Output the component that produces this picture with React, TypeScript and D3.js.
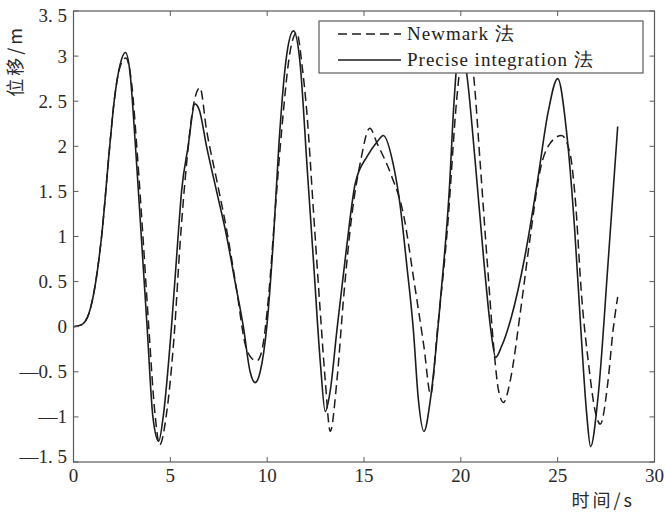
import * as d3 from "d3";

// time (s) / displacement (m)
const preciseT = [0, 0.4, 0.8, 1.15, 1.45, 1.87, 2.1, 2.4, 2.68, 2.9, 3.2, 3.5, 3.8, 4.1, 4.4, 4.63, 5.06, 5.4, 5.58, 5.92, 6.27, 6.5, 6.87, 7.39, 7.91, 8.34, 8.77, 9.12, 9.38, 9.64, 9.98, 10.33, 10.6, 11.0, 11.36, 11.7, 12.05, 12.4, 12.75, 13.0, 13.25, 13.6, 14.1, 14.55, 15.17, 15.68, 16.0, 16.5, 16.85, 17.2, 17.55, 17.8, 18.1, 18.44, 18.96, 19.4, 19.65, 19.95, 20.3, 20.75, 21.2, 21.55, 21.8, 22.1, 22.6, 23.3, 23.97, 24.5, 25.0, 25.45, 25.88, 26.2, 26.5, 26.7, 27.08, 27.6, 28.1];
const preciseU = [0, 0.02, 0.15, 0.5, 1.0, 2.0, 2.5, 2.9, 3.04, 2.85, 2.0, 1.0, 0.0, -1.0, -1.27, -1.0, 0.0, 1.0, 1.5, 2.0, 2.47, 2.4, 2.0, 1.5, 1.0, 0.5, 0.0, -0.5, -0.62, -0.5, 0.0, 1.0, 2.0, 3.0, 3.28, 2.92, 1.81, 0.7, -0.41, -0.94, -0.72, -0.04, 0.88, 1.59, 1.89, 2.05, 2.12, 1.81, 1.37, 0.7, -0.04, -0.79, -1.16, -0.79, 0.33, 1.5, 2.5, 3.15, 2.81, 1.81, 0.7, -0.04, -0.34, -0.22, 0.1, 0.77, 1.63, 2.37, 2.75, 2.18, 1.07, -0.04, -0.97, -1.33, -0.79, 0.7, 2.22];

const newmarkT = [0, 0.4, 0.8, 1.15, 1.45, 1.87, 2.1, 2.4, 2.7, 3.0, 3.3, 3.6, 3.9, 4.2, 4.45, 4.8, 5.23, 5.49, 5.84, 6.18, 6.53, 6.87, 7.39, 7.91, 8.43, 8.86, 9.2, 9.46, 9.72, 10.07, 10.4, 10.75, 11.2, 11.53, 11.8, 12.05, 12.4, 12.75, 13.0, 13.26, 13.6, 13.95, 14.38, 14.8, 15.3, 15.68, 16.37, 17.06, 17.58, 18.1, 18.44, 18.79, 19.3, 19.8, 20.25, 20.65, 21.0, 21.37, 21.7, 21.95, 22.2, 22.55, 23.06, 23.58, 24.1, 24.6, 25.2, 25.64, 25.9, 26.24, 26.6, 26.94, 27.2, 27.6, 27.86, 28.1];
const newmarkU = [0, 0.02, 0.15, 0.5, 1.0, 2.0, 2.5, 2.88, 2.98, 2.7, 1.9, 0.95, -0.05, -0.95, -1.31, -0.97, 0.0, 0.88, 1.81, 2.44, 2.65, 2.18, 1.63, 1.07, 0.4, -0.19, -0.35, -0.38, -0.27, 0.33, 1.25, 2.18, 3.07, 3.26, 2.9, 2.37, 1.25, 0.14, -0.6, -1.16, -0.6, 0.33, 1.25, 1.81, 2.2, 2.03, 1.7, 1.22, 0.51, -0.23, -0.75, -0.04, 1.07, 2.55, 3.25, 2.81, 1.81, 0.7, -0.23, -0.71, -0.84, -0.6, 0.14, 0.99, 1.74, 2.03, 2.12, 1.92, 1.44, 0.33, -0.42, -0.94, -1.08, -0.6, -0.04, 0.33];

const xTicks = [0, 5, 10, 15, 20, 25, 30];
const yTicks = [-1.5, -1, -0.5, 0, 0.5, 1, 1.5, 2, 2.5, 3, 3.5];

const legendLabels = ["Newmark 法", "Precise integration 法"];

const W = 665;
const H = 512;
const plot = { left: 73.5, right: 654.5, top: 11, bottom: 462 };
const serif = "'Liberation Serif', 'Times New Roman', serif";
const cjk = "'Noto Sans CJK SC', 'Liberation Serif', serif";
const axisColor = "#5a5a5a";
const ink = "#1c1c1c";

const fmtTick = (v: number) => {
  const s = d3.format("~g")(Math.abs(v)).replace(".", ". ");
  return (v < 0 ? "—" : "") + s;
};

export default function App() {
  const x = d3.scaleLinear().domain([0, 30]).range([plot.left, plot.right]);
  const y = d3.scaleLinear().domain([-1.5, 3.5]).range([plot.bottom, plot.top]);

  const line = d3
    .line<[number, number]>()
    .x((d) => x(d[0]))
    .y((d) => y(d[1]))
    .curve(d3.curveMonotoneX);

  const precise = preciseT.map((t, i) => [t, preciseU[i]] as [number, number]);
  const newmark = newmarkT.map((t, i) => [t, newmarkU[i]] as [number, number]);

  const tick = 5;
  const lg = { x: 319, y: 21, w: 324, h: 52 };

  return (
    <div style={{ position: "absolute", left: 0, top: 0 }}>
      <svg width={W} height={H} style={{ display: "block", background: "#fff" }}>
        <defs>
          <clipPath id="plotClip">
            <rect x={plot.left} y={plot.top} width={plot.right - plot.left} height={plot.bottom - plot.top} />
          </clipPath>
        </defs>

        {/* curves */}
        <g clipPath="url(#plotClip)" fill="none">
          <path d={line(newmark) || ""} stroke={ink} strokeWidth={1.5} strokeDasharray="9,5" />
          <path d={line(precise) || ""} stroke={ink} strokeWidth={1.6} />
        </g>

        {/* frame */}
        <rect
          x={plot.left}
          y={plot.top}
          width={plot.right - plot.left}
          height={plot.bottom - plot.top}
          fill="none"
          stroke={axisColor}
          strokeWidth={1.2}
        />

        {/* x ticks */}
        {xTicks.map((t) => (
          <g key={"x" + t}>
            <line x1={x(t)} x2={x(t)} y1={plot.bottom} y2={plot.bottom - tick} stroke={axisColor} />
            <line x1={x(t)} x2={x(t)} y1={plot.top} y2={plot.top + tick} stroke={axisColor} />
            <text
              x={x(t)}
              y={482}
              textAnchor="middle"
              fontFamily={serif}
              fontSize={19}
              fill="#2a2a2a"
            >
              {t}
            </text>
          </g>
        ))}

        {/* y ticks */}
        {yTicks.map((v, i) => {
          let ty = y(v) + 6.5;
          if (i === 0) ty = y(v) + 1;
          if (i === yTicks.length - 1) ty = y(v) + 11;
          return (
            <g key={"y" + v}>
              <line x1={plot.left} x2={plot.left + tick} y1={y(v)} y2={y(v)} stroke={axisColor} />
              <line x1={plot.right} x2={plot.right - tick} y1={y(v)} y2={y(v)} stroke={axisColor} />
              <text
                x={67}
                y={ty}
                textAnchor="end"
                fontFamily={serif}
                fontSize={19}
                fill="#2a2a2a"
              >
                {fmtTick(v)}
              </text>
            </g>
          );
        })}

        {/* axis titles */}
        <text x={635} y={507} textAnchor="end" fontFamily={cjk} fontSize={18} letterSpacing={3} fill="#2a2a2a">
          时间/s
        </text>
        <text
          transform="translate(22,61) rotate(-90)"
          textAnchor="middle"
          fontFamily={cjk}
          fontSize={18}
          letterSpacing={3}
          fill="#2a2a2a"
        >
          位移/m
        </text>

        {/* legend */}
        <g>
          <rect x={lg.x} y={lg.y} width={lg.w} height={lg.h} fill="#fff" stroke={axisColor} strokeWidth={1.2} />
          {legendLabels.map((lab, i) => {
            const cy = lg.y + 13 + i * 26;
            return (
              <g key={lab}>
                <line
                  x1={338}
                  x2={401}
                  y1={cy}
                  y2={cy}
                  stroke={ink}
                  strokeWidth={1.5}
                  strokeDasharray={i === 0 ? "9,5" : undefined}
                />
                <text x={407} y={cy + 6} fontFamily={serif} fontSize={19} letterSpacing={1} fill="#222">
                  {lab}
                </text>
              </g>
            );
          })}
        </g>
      </svg>
    </div>
  );
}
